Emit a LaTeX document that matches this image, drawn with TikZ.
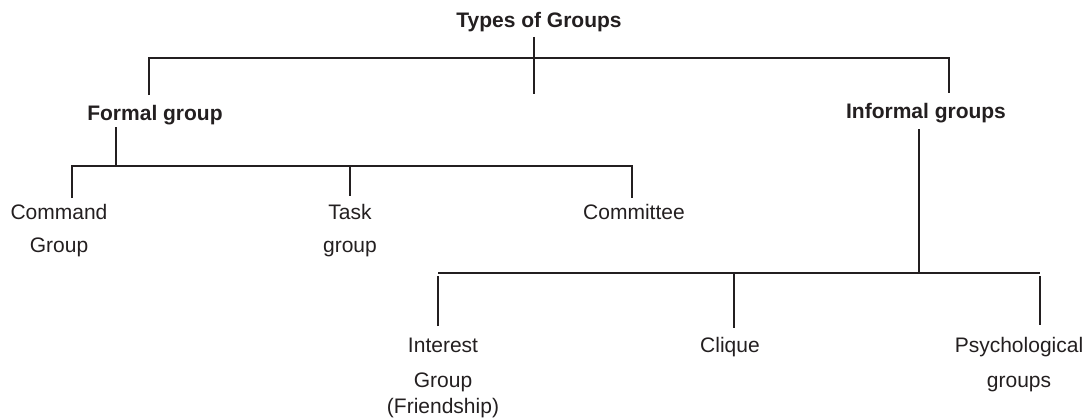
\documentclass[tikz,border=0pt]{standalone}
\usepackage{fontspec}
\setmainfont{Liberation Sans}
\definecolor{ink}{HTML}{231F20}
\begin{document}
\begin{tikzpicture}[x=1pt,y=-1pt,
  lbl/.style={font=\fontsize{21}{33}\selectfont, text=ink, inner sep=0pt, align=center, anchor=base},
  lblwide/.style={lbl, font=\fontsize{21}{35}\selectfont},
  head/.style={lbl, font=\fontsize{21}{34}\selectfont\bfseries},
  conn/.style={draw=ink, line width=1.6pt}]
\useasboundingbox (0,0) rectangle (1087,420);
% nodes (base = baseline of the last line)
\node[head] (types) at (539,28) {Types of Groups};
\node[head] (formal) at (155,120) {Formal group};
\node[head] (informal) at (926,118) {Informal groups};
\node[lbl] (command) at (59,252) {Command\\Group};
\node[lbl] (task) at (350,252) {Task\\group};
\node[lbl] (committee) at (634,219) {Committee};
\node[lblwide] (interest) at (443,413) {Interest\\Group\\[-9pt](Friendship)};
\node[lbl] (clique) at (730,352) {Clique};
\node[lblwide] (psych) at (1019,387) {Psychological\\groups};
% junction coordinates
\coordinate (tTop) at (534,37);
\coordinate (tBot) at (534,94);
\coordinate (tL) at (149,58);
\coordinate (tR) at (949,58);
\coordinate (fS) at (149,95);
\coordinate (iS) at (949,93);
\coordinate (fT) at (116,127);
\coordinate (fB) at (116,166);
\coordinate (fL) at (72,166);
\coordinate (fM) at (350,166);
\coordinate (fR) at (632,166);
\coordinate (cE) at (72,198);
\coordinate (tE) at (350,196);
\coordinate (mE) at (632,198);
\coordinate (iT) at (919,129);
\coordinate (iB) at (919,273);
\coordinate (iL) at (438,273);
\coordinate (iM) at (734,273);
\coordinate (iR) at (1040,273);
\coordinate (inE) at (438,326);
\coordinate (clE) at (734,328);
\coordinate (psE) at (1040,325);
% connectors
\draw[conn] (tTop) -- (tBot);
\draw[conn] (fS) -- (tL) -- (tR) -- ([yshift=-3pt]tR) -- (iS);
\draw[conn] (fT) -- (fB);
\draw[conn] (cE) -- (fL) -- (fR) -- (mE);
\draw[conn] (fM) -- (tE);
\draw[conn] (iT) -- (iB);
\draw[conn] (inE) -- ([yshift=-3pt]iL) (iL) -- (iR) ([yshift=-3pt]iR) -- (psE);
\draw[conn] (iM) -- (clE);
\end{tikzpicture}
\end{document}
